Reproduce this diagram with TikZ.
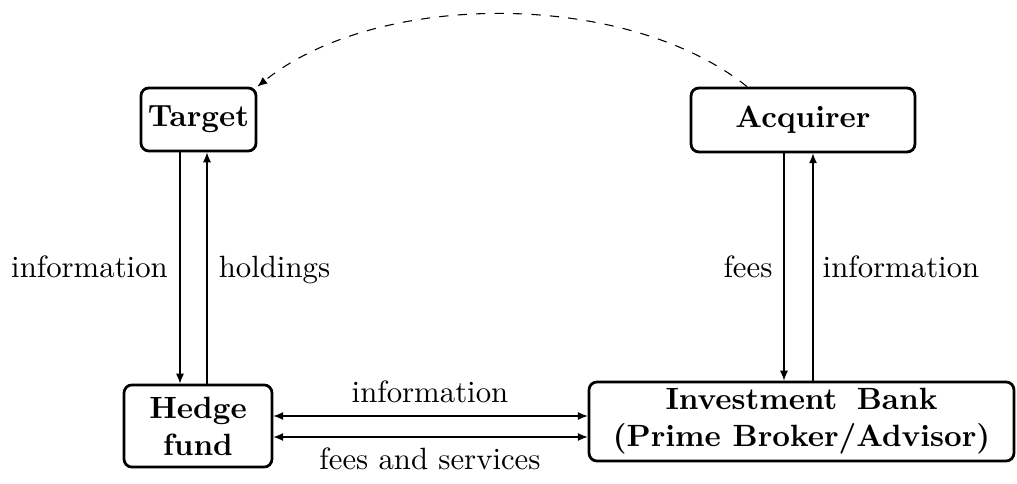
\documentclass[tikz,border=0pt]{standalone}
\usetikzlibrary{arrows.meta}
\begin{document}
\begin{tikzpicture}[x=0.325pt,y=-0.325pt,
  box/.style={draw,line width=0.9pt,rounded corners=2.6pt,inner sep=0pt,font=\bfseries,align=center},
  tip/.tip={Latex[length=3.2pt,width=2.6pt]},
  arr/.style={line width=0.35pt,-tip},
  darr/.style={line width=0.35pt,tip-tip},
  lbl/.style={anchor=base,inner sep=0pt}]
\useasboundingbox (0,0) rectangle (1017,484);
% boxes
\node[box,minimum width=37.4pt,minimum height=20.5pt] (target) at (198.5,119.5) {Target};
\node[box,minimum width=72.8pt,minimum height=20.8pt] (acquirer) at (803,120) {Acquirer};
\node[box,minimum width=48.1pt,minimum height=26.7pt] (hedge) at (198,426) {Hedge\\fund};
\node[box,minimum width=138.1pt,minimum height=25.7pt] (bank) at (801.5,421.5) {Investment\hspace{6.3pt}Bank\\(Prime Broker/Advisor)};
% helper coordinates
\coordinate (lx1) at (180,0);
\coordinate (lx2) at (207,0);
\coordinate (rx1) at (784,0);
\coordinate (rx2) at (813,0);
\coordinate (hy1) at (0,416);
\coordinate (hy2) at (0,437);
\coordinate (ds) at (747,0);
% vertical arrows
\draw[arr] (lx1 |- target.south) -- (lx1 |- hedge.north);
\draw[arr] (lx2 |- hedge.north) -- (lx2 |- target.south);
\draw[arr] (rx1 |- acquirer.south) -- (rx1 |- bank.north);
\draw[arr] (rx2 |- bank.north) -- (rx2 |- acquirer.south);
% horizontal arrows
\draw[darr] (hedge.east |- hy1) -- (bank.west |- hy1);
\draw[darr] (hedge.east |- hy2) -- (bank.west |- hy2);
% dashed curve
\draw[arr,dashed] (ds |- acquirer.north) .. controls (627,-10) and (377,-10) .. (target.north east);
% labels
\node[lbl] (l1) at (89.5,278) {information};
\node[lbl] (l2) at (274.5,278) {holdings};
\node[lbl] (l3) at (748,278) {fees};
\node[lbl] (l4) at (901,278) {information};
\node[lbl] (l5) at (430,403) {information};
\node[lbl] (l6) at (430,470) {fees and services};
\end{tikzpicture}
\end{document}
